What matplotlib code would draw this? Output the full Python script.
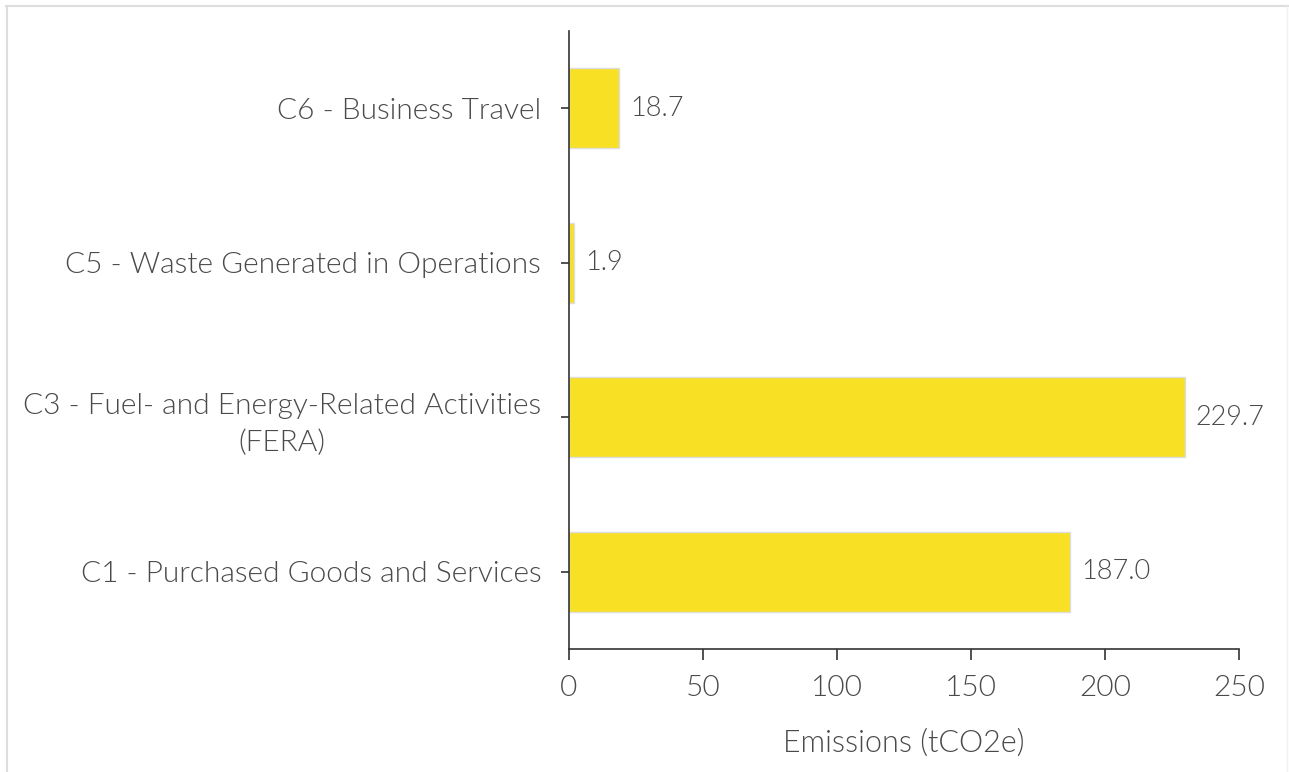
import matplotlib
matplotlib.use("Agg")
import matplotlib.pyplot as plt
from matplotlib.lines import Line2D

# Scope 3 emissions by category
categories = [
    "C1 - Purchased Goods and Services",
    "C3 - Fuel- and Energy-Related Activities\n(FERA)",
    "C5 - Waste Generated in Operations",
    "C6 - Business Travel",
]
emissions = [187.0, 229.7, 1.9, 18.7]
x_ticks = [0, 50, 100, 150, 200, 250]

plt.rcParams['font.family'] = ['Lato', 'DejaVu Sans']
text_color = '#4a4a4a'
weight = 300

fig = plt.figure(figsize=(12.89, 7.72), dpi=100)
ax = fig.add_axes([0.4414, 0.1593, 0.5198, 0.8005])

bars = ax.barh(range(len(categories)), emissions, height=0.52,
               color='#F8E024', edgecolor='#dddddd', linewidth=1)

for i, v in enumerate(emissions):
    ax.annotate(f"{v:.1f}", (v, i), xytext=(8, 0), textcoords='offset points',
                va='center', ha='left', fontsize=19.5, color=text_color,
                fontweight=weight)

ax.set_yticks(range(len(categories)))
ax.set_yticklabels(categories, fontsize=21.5, color=text_color, fontweight=weight,
                   multialignment='center', linespacing=1.45)
ax.set_xticks(x_ticks)
ax.set_xticklabels([str(t) for t in x_ticks], fontsize=21.5, color=text_color,
                   fontweight=weight)
ax.set_xlim(0, 250)
ax.set_ylim(-0.5, 3.5)
ax.set_xlabel("Emissions (tCO2e)", fontsize=22, color=text_color,
              fontweight=weight, labelpad=20)

for side in ['top', 'right']:
    ax.spines[side].set_visible(False)
for side in ['left', 'bottom']:
    ax.spines[side].set_color('#333333')
    ax.spines[side].set_linewidth(1.2)
ax.tick_params(axis='y', length=6, width=1.2, color='#333333', pad=14)
ax.tick_params(axis='x', length=8, width=1.2, color='#333333', pad=11)

# thin frame along the top and left edges
fig.add_artist(Line2D([0.0045, 1], [0.9925, 0.9925], color='#dddddd', lw=1.5))
fig.add_artist(Line2D([0.0055, 0.0055], [0, 0.9925], color='#dddddd', lw=1.5))
fig.add_artist(Line2D([0.9985, 0.9985], [0, 0.9925], color='#f0f0f0', lw=1))

fig.savefig("out.png", dpi=100)
